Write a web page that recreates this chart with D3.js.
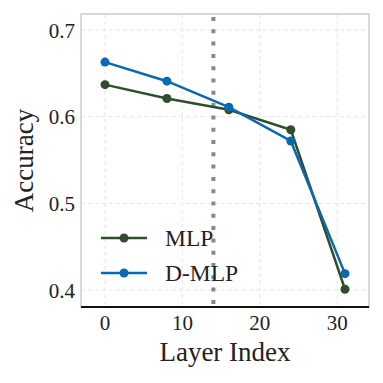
<!DOCTYPE html>
<html>
<head>
<meta charset="utf-8">
<script src="https://cdnjs.cloudflare.com/ajax/libs/d3/7.8.5/d3.min.js"></script>
<style>
  body { margin: 0; background: #fff; }
  text { font-family: "Liberation Serif", "DejaVu Serif", serif; fill: #222; }
</style>
</head>
<body>
<svg id="chart" width="383" height="383"></svg>
<script>
var layers = [0, 8, 16, 24, 31];
var mlp = [0.637, 0.621, 0.608, 0.585, 0.401];
var dmlp = [0.663, 0.641, 0.611, 0.572, 0.419];
var xTicks = [0, 10, 20, 30];
var yTicks = [0.4, 0.5, 0.6, 0.7];
var splitLayer = 14;
var series = [
  { name: "MLP", values: mlp, color: "#2f4f2c" },
  { name: "D-MLP", values: dmlp, color: "#0b67b0" }
];

var svg = d3.select("#chart");
var m = { left: 81, right: 14, top: 14, bottom: 76 };
var W = 383, H = 383;

var x = d3.scaleLinear().domain([-3.1, 34.1]).range([m.left, W - m.right]);
var y = d3.scaleLinear().domain([0.3805, 0.7185]).range([H - m.bottom, m.top]);

// grid
svg.append("g").selectAll("line.gx").data(xTicks).enter().append("line")
  .attr("x1", d => x(d)).attr("x2", d => x(d))
  .attr("y1", m.top).attr("y2", H - m.bottom)
  .attr("stroke", "#e6e6e6").attr("stroke-width", 1).attr("stroke-dasharray", "4,3");
svg.append("g").selectAll("line.gy").data(yTicks).enter().append("line")
  .attr("y1", d => y(d)).attr("y2", d => y(d))
  .attr("x1", m.left).attr("x2", W - m.right)
  .attr("stroke", "#e6e6e6").attr("stroke-width", 1).attr("stroke-dasharray", "4,3");

// frame
svg.append("rect").attr("x", m.left).attr("y", m.top)
  .attr("width", W - m.left - m.right).attr("height", H - m.top - m.bottom)
  .attr("fill", "none").attr("stroke", "#cccccc").attr("stroke-width", 1.5);

// vertical split line
svg.append("line")
  .attr("x1", x(splitLayer)).attr("x2", x(splitLayer))
  .attr("y1", m.top + 3).attr("y2", H - m.bottom)
  .attr("stroke", "#888").attr("stroke-width", 4).attr("stroke-dasharray", "4,8.3");

// bottom spine
svg.append("line").attr("x1", m.left).attr("x2", W - m.right)
  .attr("y1", H - m.bottom).attr("y2", H - m.bottom)
  .attr("stroke", "#111").attr("stroke-width", 2);

// series
var line = d3.line().x((d, i) => x(layers[i])).y(d => y(d));
series.forEach(function (s) {
  var g = svg.append("g");
  g.append("path").datum(s.values).attr("d", line)
    .attr("fill", "none").attr("stroke", s.color).attr("stroke-width", 2.5);
  g.selectAll("circle").data(s.values).enter().append("circle")
    .attr("cx", (d, i) => x(layers[i])).attr("cy", d => y(d)).attr("r", 4.5)
    .attr("fill", s.color);
});

// axis tick labels
svg.append("g").selectAll("text").data(xTicks).enter().append("text")
  .attr("x", d => x(d)).attr("y", 330)
  .attr("text-anchor", "middle").attr("font-size", 21).text(d => d);
svg.append("g").selectAll("text").data(yTicks).enter().append("text")
  .attr("x", m.left - 6).attr("y", d => y(d) + 7.5)
  .attr("text-anchor", "end").attr("font-size", 21).text(d => d.toFixed(1));

// axis titles
svg.append("text").attr("x", (m.left + W - m.right) / 2).attr("y", 361)
  .attr("text-anchor", "middle").attr("font-size", 27).text("Layer Index");
svg.append("text").attr("transform", "translate(33," + ((m.top + H - m.bottom) / 2) + ") rotate(-90)")
  .attr("text-anchor", "middle").attr("font-size", 27).text("Accuracy");

// legend
var lg = svg.append("g").selectAll("g").data(series).enter().append("g")
  .attr("transform", (d, i) => "translate(101," + (238 + i * 35) + ")");
lg.append("line").attr("x1", 0).attr("x2", 46)
  .attr("stroke", d => d.color).attr("stroke-width", 2.5);
lg.append("circle").attr("cx", 23).attr("r", 4.5).attr("fill", d => d.color);
lg.append("text").attr("x", 64).attr("y", 8).attr("font-size", 23.5).text(d => d.name);
</script>
</body>
</html>
